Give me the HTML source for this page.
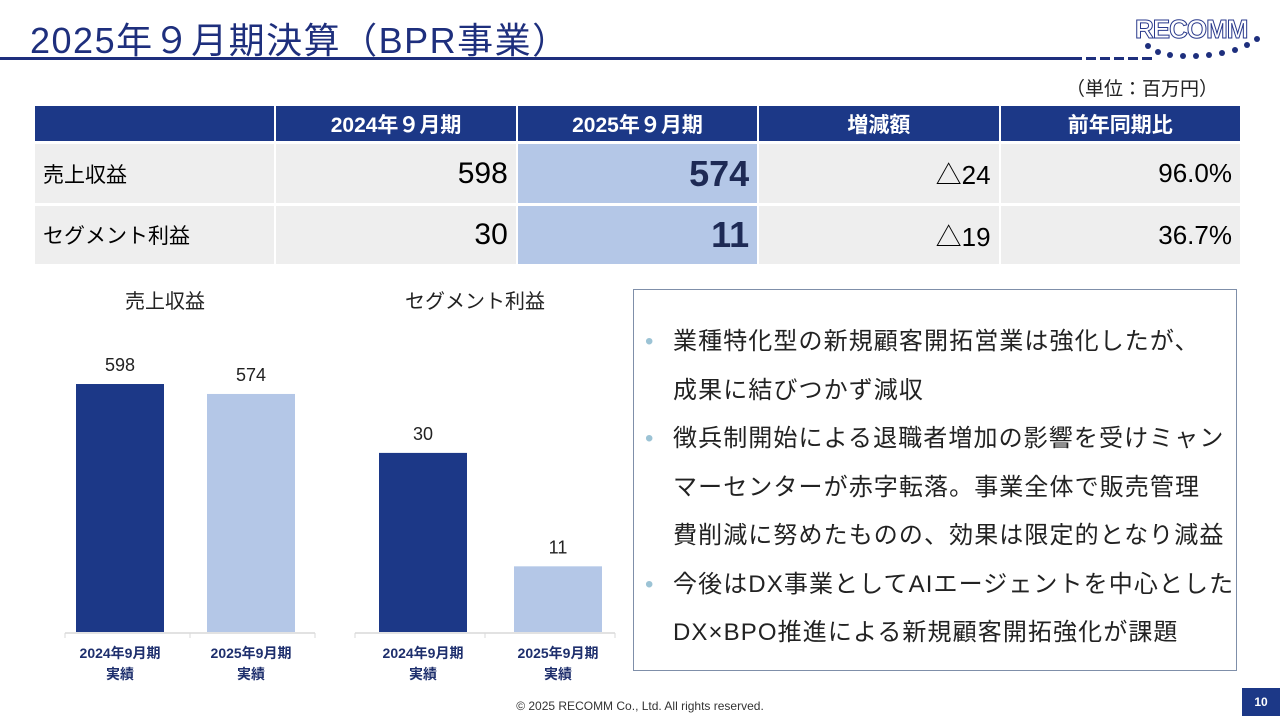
<!DOCTYPE html>
<html><head><meta charset="utf-8">
<style>
body{margin:0;width:1280px;height:720px;position:relative;background:#fff;font-family:"Liberation Sans","Noto Sans CJK JP",sans-serif;overflow:hidden}
.a{position:absolute}
table{border-collapse:separate;border-spacing:2px 3px;table-layout:fixed;width:1209px}
td{overflow:hidden;white-space:nowrap;box-sizing:border-box}
</style></head><body>
<div class="a" style="left:30px;top:12px;font-size:36px;letter-spacing:1.5px;color:#1e2f7d;white-space:nowrap">2025年９月期決算（BPR事業）</div>
<div class="a" style="left:0;top:57px;width:1082px;height:3px;background:#1e2f7d"></div>
<div class="a" style="left:1086px;top:57px;width:70px;height:3px;background:repeating-linear-gradient(90deg,#1e2f7d 0 10px,transparent 10px 14px)"></div>
<div class="a" style="left:1135px;top:14px;font-size:26px;font-weight:bold;color:#fff;-webkit-text-stroke:1px #2a3a8c;letter-spacing:-1px">RECOMM</div>
<svg class="a" style="left:1140px;top:34px" width="130" height="30"><g fill="#1e2f7d"><circle cx="8" cy="12" r="3"/><circle cx="18" cy="18" r="3"/><circle cx="30" cy="21" r="3"/><circle cx="43" cy="22" r="3"/><circle cx="56" cy="22" r="3"/><circle cx="69" cy="21" r="3"/><circle cx="82" cy="19" r="3"/><circle cx="95" cy="16" r="3"/><circle cx="107" cy="11" r="3"/><circle cx="117" cy="5" r="3"/></g></svg>
<div class="a" style="left:1066px;top:74px;font-size:19px;color:#222">（単位：百万円）</div>

<div class="a" style="left:33px;top:103px">
<table style="font-size:21px">
<tr style="height:35px;background:#1c3887;color:#fff;font-weight:bold;text-align:center">
<td></td><td>2024年９月期</td><td>2025年９月期</td><td>増減額</td><td>前年同期比</td></tr>
<tr style="height:59px;background:#eeeeee;text-align:right;font-size:30px">
<td style="text-align:left;font-size:21px;padding-left:8px">売上収益</td><td style="padding-right:8px">598</td><td style="background:#b4c7e7;font-weight:bold;font-size:36px;padding-right:8px;color:#1e2a55">574</td><td style="padding-right:8px;font-size:26px">△24</td><td style="padding-right:8px;font-size:26px">96.0%</td></tr>
<tr style="height:58px;background:#eeeeee;text-align:right;font-size:30px">
<td style="text-align:left;font-size:21px;padding-left:8px">セグメント利益</td><td style="padding-right:8px">30</td><td style="background:#b4c7e7;font-weight:bold;font-size:36px;padding-right:8px;color:#1e2a55">11</td><td style="padding-right:8px;font-size:26px">△19</td><td style="padding-right:8px;font-size:26px">36.7%</td></tr>
</table></div>

<svg class="a" style="left:0;top:0" width="640" height="700" id="ch"></svg>
<script>
const categories=["2024年9月期","2025年9月期"];
const revenue=[598,574];
const profit=[30,11];
const NS="http://www.w3.org/2000/svg";
const svg=document.getElementById('ch');
function mk(t,a,txt){const e=document.createElementNS(NS,t);for(const k in a)e.setAttribute(k,a[k]);if(txt!==undefined)e.textContent=txt;svg.appendChild(e);return e;}
function chart(name,title,vals,x0,x1,scale,centers,tx){
  const base=632;
  const t=mk('text',{x:tx,y:308,'font-size':20,'text-anchor':'middle',fill:'#222'},title);
  
  
  const ax=mk('line',{x1:x0,x2:x1,y1:base+1,y2:base+1,stroke:'#d9d9d9','stroke-width':1.5});
  
  
  const mid=(x0+x1)/2;
  [x0,mid,x1].forEach(x=>mk('line',{x1:x,x2:x,y1:base+1,y2:base+6,stroke:'#d9d9d9'}));
  vals.forEach((v,i)=>{
    const h=v*scale,cx=centers[i];
    const r=mk('rect',{x:cx-44,y:base-h,width:88,height:h,fill:i==0?'#1c3887':'#b4c7e7'});
    
    
    const l=mk('text',{x:cx,y:base-h-13,'font-size':18,'text-anchor':'middle',fill:'#222'},String(v));
    
    
    const c1=mk('text',{x:cx,y:658,'font-size':14,'font-weight':'bold','text-anchor':'middle',fill:'#1e2f6d'},categories[i]);
    
    
    mk('text',{x:cx,y:679,'font-size':14,'font-weight':'bold','text-anchor':'middle',fill:'#1e2f6d'},'実績');
  });
}
chart('revenue-chart','売上収益',revenue,65,315,0.4147,[120,251],165);
chart('profit-chart','セグメント利益',profit,355,615,5.97,[423,558],475);
</script>

<div class="a" style="left:633px;top:289px;width:604px;height:382px;border:1px solid #7f8fa9;box-sizing:border-box"></div>
<div class="a" style="left:645px;top:318px;font-size:24px;letter-spacing:1.1px;line-height:48.5px;color:#222;white-space:nowrap">
<div><span style="color:#9cc3d5;display:inline-block;width:28px;letter-spacing:0">•</span>業種特化型の新規顧客開拓営業は強化したが、</div>
<div style="padding-left:28px">成果に結びつかず減収</div>
<div><span style="color:#9cc3d5;display:inline-block;width:28px;letter-spacing:0">•</span>徴兵制開始による退職者増加の影響を受けミャン</div>
<div style="padding-left:28px">マーセンターが赤字転落。事業全体で販売管理</div>
<div style="padding-left:28px">費削減に努めたものの、効果は限定的となり減益</div>
<div><span style="color:#9cc3d5;display:inline-block;width:28px;letter-spacing:0">•</span>今後はDX事業としてAIエージェントを中心とした</div>
<div style="padding-left:28px">DX×BPO推進による新規顧客開拓強化が課題</div>
</div>

<div class="a" style="left:0;width:1280px;top:699px;text-align:center;font-size:12px;color:#333">© 2025 RECOMM Co., Ltd. All rights reserved.</div>
<div class="a" style="left:1242px;top:688px;width:38px;height:28px;background:#1c3887;color:#fff;font-size:12px;font-weight:bold;text-align:center;line-height:28px">10</div>
</body></html>
